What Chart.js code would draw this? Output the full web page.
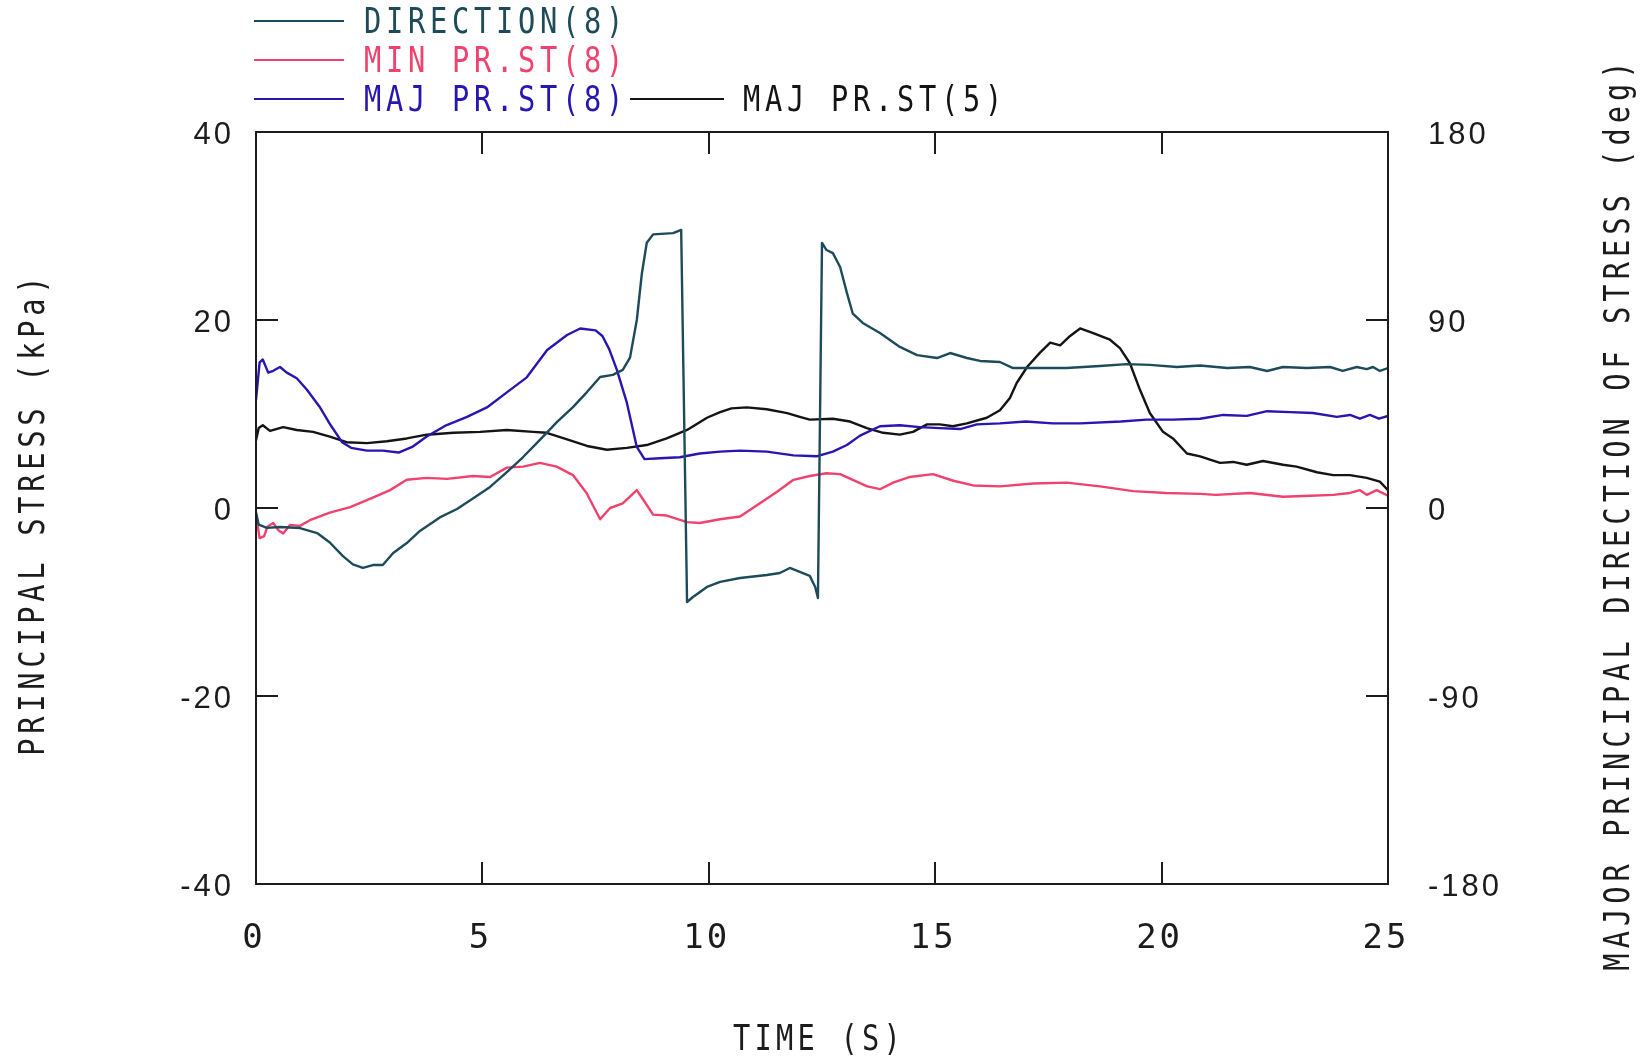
<!DOCTYPE html>
<html>
<head>
<meta charset="utf-8">
<script src="https://cdn.jsdelivr.net/npm/chart.js@4/dist/chart.umd.min.js"></script>
<style>
  html, body { margin: 0; padding: 0; background: #ffffff; }
  canvas { display: block; }
</style>
</head>
<body>
<canvas id="chart" width="1646" height="1057"></canvas>
<script>
// Major principal direction of stress, point 8 [deg]
const dirTime = [0.00, 0.06, 0.24, 0.53, 0.97, 1.35, 1.63, 1.92, 2.14, 2.36, 2.58, 2.80, 3.03, 3.33, 3.62, 4.06, 4.44, 4.79, 5.17, 5.54,
  5.90, 6.27, 6.65, 7.00, 7.31, 7.60, 7.88, 8.10, 8.26, 8.41, 8.52, 8.63, 8.77, 9.21, 9.39, 9.52, 9.65, 9.96, 10.25, 10.69,
  11.28, 11.57, 11.79, 12.01, 12.23, 12.35, 12.41, 12.50, 12.60, 12.74, 12.90, 13.05, 13.18, 13.40, 13.78, 14.22, 14.60, 15.04, 15.33, 15.70,
  15.99, 16.43, 16.72, 17.16, 17.90, 18.64, 19.23, 19.74, 20.34, 20.85, 21.45, 21.95, 22.33, 22.68, 23.21, 23.72, 24.00, 24.31, 24.53, 24.67,
  24.82, 25.00];
const dirDeg = [-2, -8, -9.5, -9.1, -9.6, -12, -16.5, -23, -27, -28.7, -27.3, -27.3, -21.5, -16.8, -11, -4.5, -0.5, 4.5, 10.1, 17.2,
  24.4, 32.6, 41.2, 48.3, 55.5, 62.7, 63.7, 66.1, 72, 90, 112, 127, 131, 131.6, 133.1, -45, -42.6, -37.8, -35.4, -33.5,
  -32.1, -31.1, -28.7, -30.6, -32.5, -37.8, -43.1, 126.9, 123.5, 122, 115.4, 103, 93, 88.6, 83.8, 77.1, 73.2, 71.8, 74.2, 71.8,
  70.4, 69.9, 67, 67, 67, 68, 68.9, 68.5, 67.5, 68.2, 67, 67.5, 65.6, 67.5, 67, 67.5, 65.6, 67.5, 66.5, 67.5,
  65.6, 67];

// Minor principal stress, point 8 [kPa]
const minTime = [0.00, 0.08, 0.18, 0.25, 0.38, 0.50, 0.60, 0.75, 0.97, 1.19, 1.63, 2.08, 2.58, 2.96, 3.33, 3.77, 4.22, 4.79, 5.17, 5.54,
  5.90, 6.27, 6.64, 7.00, 7.30, 7.60, 7.82, 8.10, 8.41, 8.55, 8.77, 9.07, 9.52, 9.80, 10.25, 10.69, 11.13, 11.50, 11.87, 12.23,
  12.60, 12.90, 13.18, 13.50, 13.78, 14.07, 14.44, 14.95, 15.40, 15.84, 16.43, 17.16, 17.90, 18.64, 19.37, 20.10, 20.85, 21.20, 21.95, 22.68,
  23.28, 23.79, 24.16, 24.38, 24.53, 24.75, 25.00];
const minKpa = [-0.7, -3.2, -3.0, -2.0, -1.6, -2.4, -2.7, -1.8, -1.9, -1.3, -0.5, 0.1, 1.1, 1.9, 3.0, 3.2, 3.1, 3.4, 3.3, 4.3,
  4.4, 4.8, 4.4, 3.5, 1.6, -1.2, 0.0, 0.5, 1.9, 0.9, -0.7, -0.8, -1.5, -1.6, -1.2, -0.9, 0.5, 1.7, 3.0, 3.4,
  3.7, 3.6, 3.0, 2.3, 2.0, 2.7, 3.3, 3.6, 2.9, 2.4, 2.3, 2.6, 2.7, 2.3, 1.8, 1.6, 1.5, 1.4, 1.6, 1.2,
  1.3, 1.4, 1.6, 1.9, 1.4, 1.9, 1.3];

// Major principal stress, point 8 [kPa]
const maj8Time = [0.00, 0.08, 0.15, 0.27, 0.38, 0.53, 0.68, 0.90, 1.12, 1.40, 1.65, 1.90, 2.10, 2.45, 2.80, 3.15, 3.45, 3.77, 4.20, 4.66,
  5.10, 5.54, 5.98, 6.43, 6.87, 7.16, 7.50, 7.65, 7.80, 7.97, 8.19, 8.41, 8.58, 8.92, 9.36, 9.80, 10.25, 10.69, 11.28, 11.87,
  12.38, 12.74, 13.05, 13.34, 13.78, 14.22, 14.66, 15.10, 15.55, 15.92, 16.43, 17.00, 17.60, 18.20, 19.10, 19.67, 20.25, 20.85, 21.36, 21.88,
  22.33, 22.84, 23.34, 23.87, 24.16, 24.38, 24.60, 24.80, 25.00];
const maj8Kpa = [11.5, 15.5, 15.8, 14.4, 14.6, 15.0, 14.4, 13.8, 12.6, 10.8, 8.8, 7.0, 6.4, 6.1, 6.1, 5.9, 6.5, 7.6, 8.8, 9.7,
  10.7, 12.3, 13.9, 16.8, 18.4, 19.1, 18.9, 18.3, 16.9, 14.7, 11.2, 6.5, 5.2, 5.3, 5.4, 5.8, 6.0, 6.1, 6.0, 5.6,
  5.5, 6.0, 6.7, 7.7, 8.7, 8.8, 8.6, 8.5, 8.4, 8.9, 9.0, 9.2, 9.0, 9.0, 9.2, 9.4, 9.4, 9.5, 9.9, 9.8,
  10.3, 10.2, 10.1, 9.7, 9.9, 9.5, 9.9, 9.5, 9.8];

// Major principal stress, point 5 [kPa]
const maj5Time = [0.00, 0.06, 0.15, 0.31, 0.60, 0.90, 1.26, 1.63, 2.00, 2.45, 2.89, 3.33, 3.77, 4.36, 4.95, 5.54, 6.12, 6.42, 6.87, 7.31,
  7.75, 8.19, 8.63, 9.07, 9.52, 9.96, 10.25, 10.50, 10.84, 11.28, 11.73, 12.01, 12.23, 12.74, 13.12, 13.49, 13.85, 14.22, 14.51, 14.82,
  15.10, 15.39, 15.70, 16.14, 16.43, 16.65, 16.80, 17.03, 17.31, 17.54, 17.76, 17.98, 18.20, 18.49, 18.86, 19.08, 19.30, 19.52, 19.74, 20.03,
  20.25, 20.56, 20.85, 21.29, 21.58, 21.88, 22.24, 22.68, 22.98, 23.43, 23.79, 24.16, 24.53, 24.82, 25.00];
const maj5Kpa = [7.2, 8.5, 8.8, 8.2, 8.6, 8.3, 8.1, 7.6, 7.0, 6.9, 7.1, 7.4, 7.8, 8.0, 8.1, 8.3, 8.1, 8.0, 7.3, 6.6,
  6.2, 6.4, 6.7, 7.4, 8.3, 9.6, 10.2, 10.6, 10.7, 10.5, 10.1, 9.7, 9.4, 9.5, 9.2, 8.5, 8.0, 7.8, 8.1, 8.9,
  8.9, 8.7, 9.0, 9.6, 10.4, 11.7, 13.3, 15.0, 16.5, 17.6, 17.3, 18.3, 19.1, 18.6, 17.9, 17.0, 15.4, 12.6, 10.1, 8.1,
  7.4, 5.8, 5.5, 4.8, 4.9, 4.6, 5.0, 4.6, 4.4, 3.8, 3.5, 3.5, 3.2, 2.8, 1.9];

// Axis tick values
const timeTicks = [0, 5, 10, 15, 20, 25];
const stressTicks = [-40, -20, 0, 20, 40];
const angleTicks = [-180, -90, 0, 90, 180];

// Series labels and pen colours
const seriesNames = ['DIRECTION(8)', 'MIN PR.ST(8)', 'MAJ PR.ST(8)', 'MAJ PR.ST(5)'];
const penColors = ['#1d4b5a', '#ef426e', '#2716b0', '#141414'];

const toPoints = (ts, vs) => ts.map((t, i) => ({ x: t, y: vs[i] }));

const INK = '#1c1c1c';
const PLOT_FONT = '"DejaVu Sans Mono", "Liberation Mono", monospace';
const NUM_FONT = '"Liberation Sans", Arial, sans-serif';

// Plotter-style lettering: monospaced, horizontally squeezed, widely spaced
function plotText(ctx, str, x, y, o) {
  ctx.save();
  ctx.translate(x, y);
  if (o.angle) ctx.rotate(o.angle);
  ctx.scale(o.squeeze, 1);
  ctx.font = o.size + 'px ' + PLOT_FONT;
  ctx.letterSpacing = '0px';
  const natural = ctx.measureText('M').width;
  const step = o.advance / o.squeeze;
  const spacing = step - natural;
  ctx.letterSpacing = spacing + 'px';
  const w = str.length * step - spacing;
  ctx.fillStyle = o.color || INK;
  ctx.textBaseline = 'middle';
  ctx.textAlign = 'left';
  // 'middle' sits a little high for capitals; nudge down onto the centre line
  ctx.fillText(str, o.align === 'center' ? -w / 2 : 0, 3);
  ctx.restore();
}

const plotterDecor = {
  id: 'plotterDecor',
  beforeDraw(chart) {
    // spacing for the numeric tick labels drawn by the scales
    chart.ctx.letterSpacing = '3px';
  },
  afterDraw(chart) {
    const ctx = chart.ctx;
    const a = chart.chartArea;
    const xs = chart.scales.x, yl = chart.scales.yStress, yr = chart.scales.yDir;
    const TICK = 22;
    ctx.save();
    ctx.letterSpacing = '0px';
    ctx.strokeStyle = INK;
    ctx.lineWidth = 2;
    ctx.lineCap = 'butt';
    // frame
    ctx.strokeRect(a.left, a.top, a.right - a.left, a.bottom - a.top);
    // inward tick marks
    ctx.beginPath();
    xs.ticks.forEach(t => {
      if (t.value <= xs.min || t.value >= xs.max) return;
      const px = Math.round(xs.getPixelForValue(t.value));
      ctx.moveTo(px, a.bottom); ctx.lineTo(px, a.bottom - TICK);
      ctx.moveTo(px, a.top); ctx.lineTo(px, a.top + TICK);
    });
    yl.ticks.forEach(t => {
      if (t.value <= yl.min || t.value >= yl.max) return;
      const py = Math.round(yl.getPixelForValue(t.value));
      ctx.moveTo(a.left, py); ctx.lineTo(a.left + TICK, py);
    });
    yr.ticks.forEach(t => {
      if (t.value <= yr.min || t.value >= yr.max) return;
      const py = Math.round(yr.getPixelForValue(t.value));
      ctx.moveTo(a.right, py); ctx.lineTo(a.right - TICK, py);
    });
    ctx.stroke();
    ctx.restore();

    const txt = { size: 35, advance: 22, squeeze: 0.82 };
    // axis titles
    plotText(ctx, 'TIME (S)', (a.left + a.right) / 2 - 5, 1038, { ...txt, advance: 21.5, align: 'center' });
    plotText(ctx, 'PRINCIPAL STRESS (kPa)', 32, 516, { ...txt, align: 'center', angle: -Math.PI / 2 });
    plotText(ctx, 'MAJOR PRINCIPAL DIRECTION OF STRESS (deg)', 1617, 516, { ...txt, advance: 22.3, align: 'center', angle: -Math.PI / 2 });

    // legend: three stacked entries, the fourth continues the last row
    const rows = [
      { i: 0, x0: 254, x1: 344, tx: 364, y: 21 },
      { i: 1, x0: 254, x1: 344, tx: 364, y: 60 },
      { i: 2, x0: 254, x1: 344, tx: 364, y: 99 },
      { i: 3, x0: 630, x1: 724, tx: 743, y: 99 }
    ];
    rows.forEach(r => {
      const ds = chart.data.datasets[r.i];
      ctx.save();
      ctx.strokeStyle = ds.borderColor;
      ctx.lineWidth = 2;
      ctx.beginPath();
      ctx.moveTo(r.x0, r.y); ctx.lineTo(r.x1, r.y);
      ctx.stroke();
      ctx.restore();
      plotText(ctx, ds.label, r.tx, r.y, { ...txt, color: ds.borderColor });
    });
    ctx.letterSpacing = '0px';
  }
};

const lineStyle = (i) => ({
  label: seriesNames[i],
  borderColor: penColors[i],
  backgroundColor: penColors[i],
  borderWidth: 2.4,
  borderJoinStyle: 'round',
  borderCapStyle: 'round',
  pointRadius: 0,
  tension: 0,
  fill: false
});

new Chart(document.getElementById('chart'), {
  type: 'line',
  data: {
    datasets: [
      { ...lineStyle(0), data: toPoints(dirTime, dirDeg), yAxisID: 'yDir' },
      { ...lineStyle(1), data: toPoints(minTime, minKpa), yAxisID: 'yStress' },
      { ...lineStyle(2), data: toPoints(maj8Time, maj8Kpa), yAxisID: 'yStress' },
      { ...lineStyle(3), data: toPoints(maj5Time, maj5Kpa), yAxisID: 'yStress' }
    ]
  },
  options: {
    responsive: false,
    animation: false,
    events: [],
    layout: { padding: { top: 132, left: 0, right: 0, bottom: 0 } },
    plugins: { legend: { display: false }, tooltip: { enabled: false }, title: { display: false } },
    scales: {
      x: {
        type: 'linear', position: 'bottom', min: 0, max: 25,
        afterBuildTicks: s => { s.ticks = timeTicks.map(v => ({ value: v })); },
        afterFit: s => { s.height = 173; },
        grid: { display: false, drawTicks: false },
        border: { display: false },
        ticks: { color: INK, padding: 35, labelOffset: -2, maxRotation: 0, autoSkip: false,
                 font: { family: PLOT_FONT, size: 34 } }
      },
      yStress: {
        type: 'linear', position: 'left', min: -40, max: 40,
        afterBuildTicks: s => { s.ticks = stressTicks.map(v => ({ value: v })); },
        afterFit: s => { s.width = 256; },
        grid: { display: false, drawTicks: false },
        border: { display: false },
        ticks: { color: INK, padding: 22, labelOffset: 3, font: { family: NUM_FONT, size: 31 } }
      },
      yDir: {
        type: 'linear', position: 'right', min: -180, max: 180,
        afterBuildTicks: s => { s.ticks = angleTicks.map(v => ({ value: v })); },
        afterFit: s => { s.width = 258; },
        grid: { display: false, drawTicks: false },
        border: { display: false },
        ticks: { color: INK, padding: 40, labelOffset: 3, font: { family: NUM_FONT, size: 31 } }
      }
    }
  },
  plugins: [plotterDecor]
});
</script>
</body>
</html>
